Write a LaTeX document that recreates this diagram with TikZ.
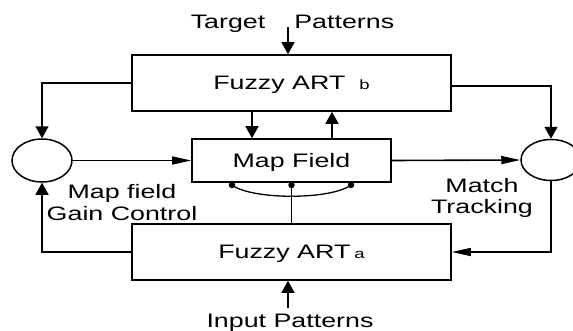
\documentclass[tikz,border=0pt]{standalone}
\usepackage{fontspec}
\setmainfont{Liberation Sans}[FakeStretch=1.375]
\usetikzlibrary{arrows.meta,shapes.geometric}
\begin{document}
\begin{tikzpicture}[x=1pt,y=-1pt,
  txt/.style={font=\fontsize{19.5}{22}\selectfont, inner sep=0pt},
  box/.style={txt, draw, line width=1.6pt, rectangle, text height=14pt, text depth=1pt},
  junc/.style={ellipse, draw, line width=1.5pt, minimum width=60pt, minimum height=43pt, inner sep=0pt},
  link/.style={line width=1.6pt},
  vtip/.style={-{Triangle[length=12pt,width=13pt]}},
  htip/.style={-{Triangle[length=19pt,width=8pt]}},
  dot/.style={circle, fill, minimum size=6.5pt, inner sep=0pt},
  lbl/.style={txt, align=center, anchor=base}]
\useasboundingbox (0,0) rectangle (573,330);

% modules
\node[box, minimum width=319pt, minimum height=56pt] (fb) at (291.5,83)
  {Fuzzy ART\hspace{14pt}{\fontsize{13.5}{13.5}\selectfont b}};
\node[box, minimum width=199pt, minimum height=43pt] (mf) at (291.5,160.5) {Map Field};
\node[box, minimum width=319pt, minimum height=56pt] (fa) at (291.5,252)
  {Fuzzy ART\hspace{4pt}{\fontsize{13.5}{13.5}\selectfont a}};

% gain control and match tracking junctions
\node[junc] (lc) at (42,160.5) {};
\node[junc, minimum height=41pt] (rc) at (551,160) {};

% external inputs
\node[lbl] (tp) at (292.5,28) {Target\hspace{29pt}Patterns};
\node[lbl] (ip) at (290,327) {Input Patterns};
\coordinate (tin) at (288,27);
\coordinate (iin) at (288,308);
\draw[link,vtip] (tin) -- (tin |- fb.north);
\draw[link,vtip] (iin) -- (iin |- fa.south);

% side labels (anchored on the baseline of their last line)
\node[lbl] (gl) at (122,220) {Map field\\[0pt]Gain Control};
\node[lbl] (ml) at (482,213) {Match\\[-1pt]Tracking};

% links between ART b and the map field
\coordinate (dcol) at (252,0);
\coordinate (ucol) at (332,0);
\draw[link,vtip] (fb.south -| dcol) -- (mf.north -| dcol);
\draw[link,vtip] (mf.north -| ucol) -- (fb.south -| ucol);

% map field weights
\node[dot] (d1) at (232,185) {};
\node[dot] (d2) at (291.5,185) {};
\node[dot] (d3) at (351,185) {};
\draw[line width=1.3pt] (d1.center) .. controls (252,200) and (331,200) .. (d3.center);
\draw[link] (d2.center) -- (d2 |- fa.north);

% gain control loop
\draw[link,vtip] (fb.west) -| (lc.north);
\draw[link,htip] (lc.east) -- (mf.west);
\draw[link,vtip] (fa.west) -| (lc.south);

% match tracking loop
\draw[link,vtip] ([yshift=-3pt]fb.east) -| (rc.north);
\draw[link,htip] (mf.east) -- (rc.west);
\draw[link,htip] (rc.south) |- (fa.east);
\end{tikzpicture}
\end{document}
